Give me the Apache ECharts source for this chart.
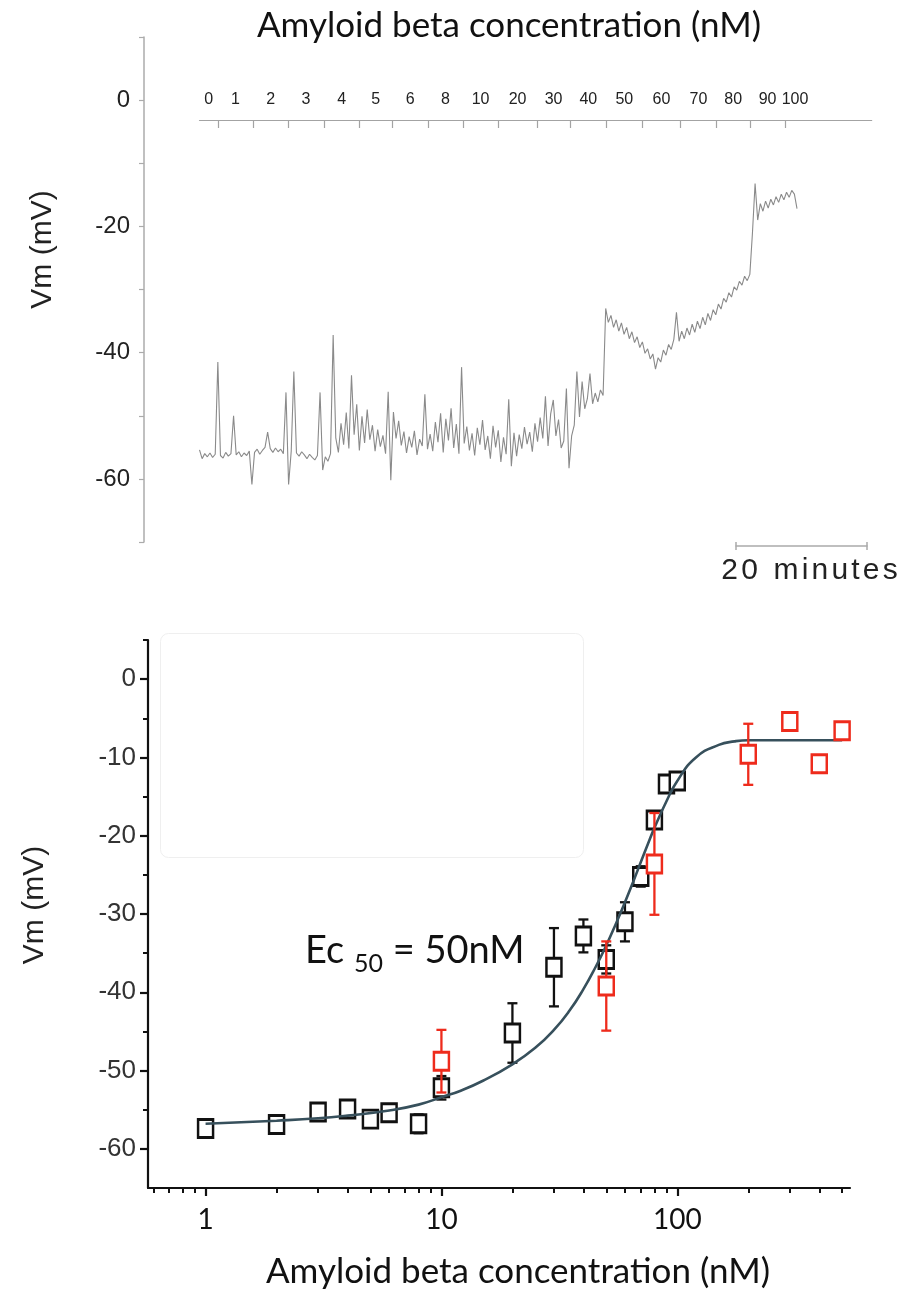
<!DOCTYPE html>
<html>
<head>
<meta charset="utf-8">
<script src="https://cdn.jsdelivr.net/npm/echarts@6/dist/echarts.min.js"></script>
<style>
html,body{margin:0;padding:0;background:#fff;}
#chart{width:904px;height:1292px;}
</style>
</head>
<body>
<div id="chart"></div>
<script>
// ================= DATA =================
// Top panel: membrane potential trace (mV), one sample every traceDt minutes
const traceDt = 0.4;
const traceVm = [
  -55.4,-56.8,-56.0,-56.5,-55.9,-56.6,-56.1,-41.5,-56.3,-56.7,
  -55.8,-56.4,-56.0,-50.0,-56.2,-55.7,-56.5,-55.9,-56.3,-55.6,
  -60.9,-55.8,-55.3,-56.1,-55.5,-55.0,-52.6,-55.2,-55.8,-55.1,
  -55.7,-55.3,-56.0,-46.3,-60.9,-55.6,-43.0,-55.9,-56.4,-55.7,
  -56.2,-56.8,-56.1,-56.6,-57.0,-56.3,-46.3,-58.6,-56.5,-57.2,
  -56.0,
  -37.2,-53.5,-55.8,-51.2,-54.6,-49.5,-55.2,-43.6,-53.0,-48.2,
  -55.5,-50.1,-54.3,-49.0,-53.8,-51.5,-55.6,-52.2,-54.9,-53.1,
  -56.0,-46.2,-60.2,-49.4,-53.6,-50.8,-54.7,-52.5,-55.9,-53.3,
  -55.0,-52.4,-56.2,-53.7,-54.8,-46.6,-55.3,-52.9,-55.6,-51.0,
  -54.2,-49.6,-55.8,-50.5,-53.9,-48.8,-55.1,-51.3,-56.0,-42.3,
  -54.4,-51.7,-55.5,-52.8,-56.3,-51.9,-54.6,-50.7,-55.4,-53.2,
  -56.8,-51.6,-55.0,-52.3,-57.3,-53.4,-56.1,-47.4,-58.0,-52.7,
  -56.4,-53.0,-55.2,-51.8,-54.5,-52.6,-55.7,-51.2,-54.1,-50.3,
  -53.6,-46.9,-54.8,-49.7,-47.5,-53.2,-50.6,-55.1,-54.0,-45.7,
  -58.3,-53.2,-51.5,-43.0,-50.2,-44.6,-48.9,-47.3,-43.3,-48.1,
  -46.4,-47.8,-45.9,-46.8,
  -33.0,-35.2,-34.1,-36.0,-34.8,-36.6,-35.3,-37.1,-36.0,-37.8,
  -36.7,-38.4,-37.5,-39.2,-38.3,-40.1,-39.4,-41.0,-40.2,-42.6,
  -40.8,-41.5,-39.6,-40.4,-38.7,-39.5,-37.9,-33.6,-38.2,-36.6,
  -37.8,-36.1,-37.2,-35.5,-36.8,-35.0,-36.2,-34.4,-35.6,-33.8,
  -34.9,-33.2,-34.0,-32.3,-33.1,-31.4,-32.0,-30.5,-31.2,-29.6,
  -30.1,-28.7,-29.3,-27.9,-28.6,-27.6,
  -21.0,-13.2,-19.0,-16.4,-17.6,-16.0,-17.1,-15.7,-16.6,-15.3,
  -16.2,-14.9,-15.8,-14.6,-15.4,-14.3,-14.9,-17.2
];
// Concentration applied in each period (nM) and the times (min) at which it changed
const concLabels = ['0','1','2','3','4','5','6','8','10','20','30','40','50','60','70','80','90','100'];
const changeTimes = [2.8, 8.2, 13.5, 19.0, 24.4, 29.4, 34.9, 40.2, 45.6, 51.5, 56.6, 62.1, 67.6, 73.4, 78.9, 84.0, 89.4];
const lastPeriodEnd = 92.4;
const scaleBarMinutes = 20;
const topYLabels = [0, -20, -40, -60];

// Bottom panel: dose-response
const blackConc = [1, 2, 3, 4, 5, 6, 8, 10, 20, 30, 40, 50, 60, 70, 80, 90, 100];
const blackVm   = [-57.4, -56.9, -55.3, -54.9, -56.2, -55.4, -56.8, -52.2, -45.2, -36.8, -32.8, -35.8, -31.0, -25.2, -18.0, -13.4, -13.0];
const blackErr  = [0.5, 1.1, 1.0, 0.9, 0.9, 1.1, 1.2, 1.5, 3.8, 5.0, 2.1, 1.8, 2.5, 1.3, 1.0, 0.8, 0.6];
const redConc = [10, 50, 80, 200, 300, 400, 500];
const redVm   = [-48.8, -39.2, -23.6, -9.6, -5.4, -10.8, -6.6];
const redErr  = [4.0, 5.7, 6.5, 3.9, 0.5, 0.5, 0.5];
const fitConc = [1, 2, 3, 4, 6, 8, 10, 12, 15, 20, 25, 30, 35, 40, 45, 50, 55, 60, 65, 70, 75, 80, 90, 100, 120, 150, 175, 200, 300, 500];
const fitVm   = [-56.8, -56.4, -56.1, -55.75, -55.1, -54.35, -53.4, -52.6, -51.3, -49.2, -47.1, -44.8, -42.3, -39.6, -36.8, -34.0, -31.2, -28.5, -25.9, -23.4, -21.1, -19.0, -15.6, -13.0, -10.0, -8.4, -7.95, -7.8, -7.8, -7.8];
const bottomYLabels = [0, -10, -20, -30, -40, -50, -60];
const bottomYMinor = [5, -5, -15, -25, -35, -45, -55];
const bottomXLabels = [1, 10, 100];
const bottomXMinor = [0.6, 0.7, 0.8, 0.9, 2, 3, 4, 5, 6, 7, 8, 9, 20, 30, 40, 50, 60, 70, 80, 90, 200, 300, 400, 500];

// ================= BUILD =================
const AR = '"Liberation Sans", Arial, sans-serif';
const CAL = 'Lato, Carlito, Calibri, sans-serif';

const traceData = traceVm.map((v, i) => [i * traceDt, v]);
const bandEdges = [0].concat(changeTimes, [lastPeriodEnd]);
const labelPos = concLabels.map((_, k) => (bandEdges[k] + bandEdges[k + 1]) / 2);
function concLabelFor(v) {
  let best = 0, bd = Infinity;
  labelPos.forEach((p, k) => { const d = Math.abs(p - v); if (d < bd) { bd = d; best = k; } });
  return concLabels[best];
}
// letter-spaced scale-bar caption
const barCaption = '20 minutes'.split('').map(ch => ch === ' ' ? '{s| }' : '{c|' + ch + '}').join('');

// layout (pixels)
const topLeft = 199.5, topWidth = 672.2, T_MAX = 102.6;
const pxPerMin = topWidth / T_MAX;
const barLeft = 736;

function errRender(color) {
  return function (params, api) {
    const x = api.value(0), m = api.value(1), e = api.value(2);
    const a = api.coord([x, m + e]);
    const b = api.coord([x, m - e]);
    const w = 5;
    const style = { stroke: color, lineWidth: 2.3, fill: null };
    return {
      type: 'group',
      children: [
        { type: 'line', shape: { x1: a[0], y1: a[1], x2: b[0], y2: b[1] }, style: style },
        { type: 'line', shape: { x1: a[0] - w, y1: a[1], x2: a[0] + w, y2: a[1] }, style: style },
        { type: 'line', shape: { x1: b[0] - w, y1: b[1], x2: b[0] + w, y2: b[1] }, style: style }
      ]
    };
  };
}

const ticksGray = '#ababab';

const option = {
  animation: false,
  backgroundColor: '#ffffff',
  title: [
    {
      text: 'Amyloid beta concentration (nM)',
      left: 509, top: 8, textAlign: 'center', padding: 0,
      textStyle: { fontFamily: CAL, fontSize: 35, fontWeight: 'normal', color: '#111' }
    },
    {
      text: '{a|Ec }{b|50}{a| = 50nM}',
      left: 305, top: 926, padding: 0,
      textStyle: {
        fontWeight: 'normal',
        rich: {
          a: { fontFamily: CAL, fontSize: 38, fontWeight: 'normal', color: '#111', lineHeight: 50, verticalAlign: 'middle' },
          b: { fontFamily: CAL, fontSize: 25, fontWeight: 'normal', color: '#111', lineHeight: 26, verticalAlign: 'bottom' }
        }
      }
    }
  ],
  graphic: [
    {
      type: 'rect', left: 158, top: 631, silent: true,
      shape: { width: 423, height: 224, r: 8 },
      style: { fill: 'none', stroke: '#efefef', lineWidth: 1 }
    }
  ],
  grid: [
    { left: topLeft, width: topWidth, top: 37, height: 505 },                         // trace
    { left: topLeft, width: topWidth, top: 120, height: 1 },                          // concentration timeline
    { left: barLeft, width: scaleBarMinutes * pxPerMin, top: 545, height: 1 },         // scale bar
    { left: 148, width: 702, top: 640, height: 548 }                                  // dose-response
  ],
  xAxis: [
    { gridIndex: 0, type: 'value', min: 0, max: T_MAX, show: false },
    {
      gridIndex: 1, type: 'value', min: 0, max: T_MAX, position: 'top',
      axisLine: { show: true, onZero: false, lineStyle: { color: '#a3a3a3', width: 1.2 } },
      axisTick: { show: true, inside: true, length: 8, customValues: changeTimes, lineStyle: { color: '#a3a3a3', width: 1.2 } },
      axisLabel: { show: true, customValues: labelPos, formatter: concLabelFor, margin: 12,
                   fontFamily: AR, fontSize: 16, color: '#222' },
      splitLine: { show: false }
    },
    {
      gridIndex: 2, type: 'value', min: 0, max: scaleBarMinutes, position: 'bottom',
      axisLine: { show: true, onZero: false, lineStyle: { color: '#aaaaaa', width: 1.5 } },
      axisTick: { show: true, length: 4, customValues: [0, scaleBarMinutes], lineStyle: { color: '#aaaaaa', width: 1.5 } },
      axisLabel: { show: false }, splitLine: { show: false },
      name: barCaption, nameLocation: 'middle', nameGap: 10,
      nameTextStyle: {
        padding: [0, 0, 0, 16],
        rich: {
          c: { fontFamily: AR, fontSize: 30, color: '#222', padding: [0, 1.6, 0, 1.6] },
          s: { fontFamily: AR, fontSize: 30, color: '#222', padding: [0, 2, 0, 2] }
        }
      }
    },
    {
      gridIndex: 2, type: 'value', min: 0, max: scaleBarMinutes, position: 'bottom',
      axisLine: { show: false, onZero: false },
      axisTick: { show: true, inside: true, length: 4, customValues: [0, scaleBarMinutes], lineStyle: { color: '#aaaaaa', width: 1.5 } },
      axisLabel: { show: false }, splitLine: { show: false }
    },
    {
      gridIndex: 3, type: 'log', logBase: 10, min: 0.57, max: 540, position: 'bottom',
      axisLine: { show: true, onZero: false, lineStyle: { color: '#111', width: 2.2 } },
      axisTick: { show: true, length: 8, customValues: bottomXLabels, lineStyle: { color: '#111', width: 2.2 } },
      axisLabel: { show: true, customValues: bottomXLabels, margin: 18, fontFamily: CAL, fontSize: 28, color: '#111',
                   formatter: v => String(Math.round(v)) },
      splitLine: { show: false }, minorTick: { show: false },
      name: 'Amyloid beta concentration (nM)', nameLocation: 'middle', nameGap: 66,
      nameTextStyle: { fontFamily: CAL, fontSize: 35, color: '#111', padding: [0, 0, 0, 38] }
    },
    {
      gridIndex: 3, type: 'log', logBase: 10, min: 0.57, max: 540, position: 'bottom',
      axisLine: { show: false, onZero: false },
      axisTick: { show: true, length: 5, customValues: bottomXMinor, lineStyle: { color: '#111', width: 2 } },
      axisLabel: { show: false }, splitLine: { show: false }
    }
  ],
  yAxis: [
    {
      gridIndex: 0, type: 'value', min: -70, max: 10, interval: 10, position: 'left', offset: topLeft - 144,
      axisLine: { show: true, onZero: false, lineStyle: { color: ticksGray, width: 1.5 } },
      axisTick: { show: true, length: 5, lineStyle: { color: ticksGray, width: 1.2 } },
      axisLabel: { margin: 14, fontFamily: AR, fontSize: 24, color: '#222',
                   formatter: v => (topYLabels.indexOf(v) >= 0 ? String(v) : '') },
      splitLine: { show: false },
      name: 'Vm (mV)', nameLocation: 'middle', nameGap: 86,
      nameTextStyle: { fontFamily: AR, fontSize: 30, color: '#222', padding: [0, 0, 0, 80] }
    },
    { gridIndex: 1, type: 'value', min: 0, max: 1, show: false },
    { gridIndex: 2, type: 'value', min: 0, max: 1, show: false },
    {
      gridIndex: 3, type: 'value', min: -65, max: 5, position: 'left',
      axisLine: { show: true, onZero: false, lineStyle: { color: '#111', width: 2.2 } },
      axisTick: { show: true, length: 8, customValues: bottomYLabels, lineStyle: { color: '#111', width: 2.2 } },
      axisLabel: { show: true, customValues: bottomYLabels, margin: 12, fontFamily: AR, fontSize: 26, color: '#333' },
      splitLine: { show: false },
      name: 'Vm (mV)', nameLocation: 'middle', nameGap: 98,
      nameTextStyle: { fontFamily: AR, fontSize: 30, color: '#222', padding: [0, 0, 0, 18] }
    },
    {
      gridIndex: 3, type: 'value', min: -65, max: 5, position: 'left',
      axisLine: { show: false, onZero: false },
      axisTick: { show: true, length: 5, customValues: bottomYMinor, lineStyle: { color: '#111', width: 2 } },
      axisLabel: { show: false }, splitLine: { show: false }
    }
  ],
  series: [
    {
      type: 'line', xAxisIndex: 0, yAxisIndex: 0, data: traceData,
      showSymbol: false, symbol: 'none', silent: true,
      lineStyle: { color: '#8a8a8a', width: 1.1 }
    },
    {
      type: 'custom', xAxisIndex: 4, yAxisIndex: 3, silent: true,
      data: blackConc.map((c, i) => [c, blackVm[i], blackErr[i]]),
      encode: { x: 0, y: 1 }, renderItem: errRender('#111'), z: 2
    },
    {
      type: 'scatter', xAxisIndex: 4, yAxisIndex: 3, silent: true,
      data: blackConc.map((c, i) => [c, blackVm[i]]),
      symbol: 'rect', symbolSize: [15, 18],
      itemStyle: { color: '#ffffff', borderColor: '#111', borderWidth: 2.7, opacity: 1 }, z: 3
    },
    {
      type: 'line', xAxisIndex: 4, yAxisIndex: 3, silent: true,
      data: fitConc.map((c, i) => [c, fitVm[i]]),
      showSymbol: false, symbol: 'none', smooth: 0.5,
      lineStyle: { color: '#37505c', width: 2.6 }, z: 4
    },
    {
      type: 'custom', xAxisIndex: 4, yAxisIndex: 3, silent: true,
      data: redConc.map((c, i) => [c, redVm[i], redErr[i]]),
      encode: { x: 0, y: 1 }, renderItem: errRender('#ee2b1c'), z: 5
    },
    {
      type: 'scatter', xAxisIndex: 4, yAxisIndex: 3, silent: true,
      data: redConc.map((c, i) => [c, redVm[i]]),
      symbol: 'rect', symbolSize: [15, 18],
      itemStyle: { color: '#ffffff', borderColor: '#ee2b1c', borderWidth: 2.7, opacity: 1 }, z: 6
    }
  ]
};

const chart = echarts.init(document.getElementById('chart'), null, { renderer: 'canvas', width: 904, height: 1292 });
chart.setOption(option);
</script>
</body>
</html>
